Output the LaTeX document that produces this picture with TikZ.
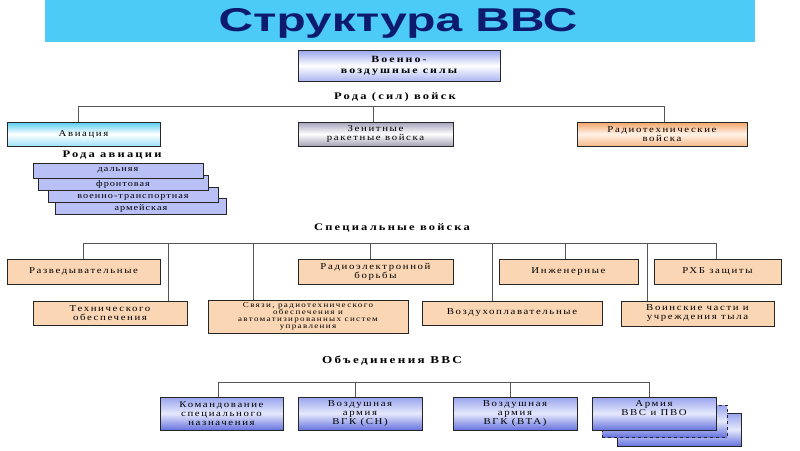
\documentclass[tikz,border=0pt]{standalone}
\usepackage{fontspec}
\usetikzlibrary{shadows}
\setmainfont{Liberation Serif}
\newfontfamily\boxfont[FakeStretch=1.2,LetterSpace=18]{Liberation Serif}
\newfontfamily\stackfont[FakeStretch=1.2,LetterSpace=12]{Liberation Serif}
\newfontfamily\lblfont[FakeStretch=1.25,LetterSpace=22]{Liberation Serif}
\newfontfamily\titlefont[FakeStretch=1.45]{Liberation Sans}
\definecolor{titlebar}{HTML}{4DCBF7}
\definecolor{titletext}{HTML}{0D1B6E}
\definecolor{peach}{HTML}{FAD6B4}
\definecolor{peri}{HTML}{B8C0F6}
\definecolor{linec}{HTML}{555555}
\definecolor{cyanT}{HTML}{55CDF5}
\definecolor{cyanB}{HTML}{9EE2F8}
\definecolor{grayT}{HTML}{A3A1BA}
\definecolor{grayB}{HTML}{A4A2B6}
\definecolor{orT}{HTML}{F5A468}
\definecolor{orM}{HTML}{FFF3E8}
\definecolor{orB}{HTML}{F6B98A}
\definecolor{blT}{HTML}{98A4EE}
\definecolor{blM}{HTML}{E6E9FC}
\definecolor{blB}{HTML}{6673DE}
\begin{document}
\begin{tikzpicture}[x=1pt,y=-1pt,
  plain/.style={draw=black!85, line width=0.7pt, inner sep=1pt, align=center,
    font=\boxfont\fontsize{9}{9}\selectfont},
  box/.style={plain,
    drop shadow={shadow xshift=0.8pt, shadow yshift=-0.8pt, fill=black!55, opacity=1}},
  pbox/.style={box, fill=peach},
  sbox/.style={box, fill=peri, font=\stackfont\fontsize{8.5}{9}\selectfont},
  bbox/.style={box, top color=blT, bottom color=blB, middle color=blM},
  lbl/.style={font=\lblfont\bfseries\fontsize{10}{11}\selectfont, inner sep=0pt},
  conn/.style={draw=linec, line width=0.8pt}]
\useasboundingbox (0,0) rectangle (800,450);
\fill[white] (0,0) rectangle (800,450);
% title
\fill[titlebar] (45,0) rectangle (755,42);
\node[font=\titlefont\bfseries\fontsize{33}{34}\selectfont, text=titletext, inner sep=0pt] (title) at (398,23) {Структура ВВС};
% top box
\node[box, font=\lblfont\bfseries\fontsize{9.5}{11}\selectfont, minimum width=202pt, minimum height=31pt,
  top color=blT, bottom color=blT!80, middle color=white] (vvs) at (399,65.5) {Военно-\\воздушные силы};
\node[lbl] (rodlbl) at (395,97) {Рода (сил) войск};
% row 1
\node[box, minimum width=153pt, minimum height=24pt, top color=cyanT, bottom color=cyanB, middle color=white] (av) at (83.5,134) {Авиация};
\node[box, minimum width=155pt, minimum height=24pt, top color=grayT, bottom color=grayB, middle color=white] (zen) at (375.5,134) {Зенитные\\ракетные войска};
\node[box, minimum width=170pt, minimum height=24pt, top color=orT, bottom color=orB, middle color=orM] (rt) at (662,134) {Радиотехнические\\войска};
\coordinate (b1a) at (78,106);
\coordinate (b1b) at (373,106);
\coordinate (b1c) at (664,106);
\draw[conn] (b1a) -- (b1c);
\draw[conn] (b1a) -- (b1a |- av.north);
\draw[conn] (b1b) -- (b1b |- zen.north);
\draw[conn] (b1c) -- (b1c |- rt.north);
% aviation kinds
\node[lbl] (avlbl) at (112,155) {Рода авиации};
\node[sbox, minimum width=171pt, minimum height=16pt] (s4) at (141,206.5) {\raisebox{-2pt}[\height][\depth]{армейская}};
\node[sbox, minimum width=170pt, minimum height=15pt] (s3) at (133,194.5) {\raisebox{-2.5pt}[\height][\depth]{военно-транспортная}};
\node[sbox, minimum width=170pt, minimum height=15pt] (s2) at (123,182.5) {\raisebox{-2pt}[\height][\depth]{фронтовая}};
\node[sbox, minimum width=170pt, minimum height=15pt] (s1) at (118,170.5) {дальняя};
% special troops
\node[lbl] (splbl) at (392,228) {Специальные войска};
\node[pbox, minimum width=153pt, minimum height=25pt] (razv) at (83.5,271.5) {Разведывательные};
\node[pbox, minimum width=155pt, minimum height=25pt] (reb) at (375.5,271.5) {Радиоэлектронной\\борьбы};
\node[pbox, minimum width=139pt, minimum height=25pt] (ing) at (568.5,271.5) {Инженерные};
\node[pbox, minimum width=127pt, minimum height=25pt] (rxb) at (717.5,271.5) {РХБ защиты};
\node[pbox, minimum width=154pt, minimum height=24pt] (tech) at (110,313) {Технического\\обеспечения};
\node[pbox, minimum width=200pt, minimum height=33pt, font=\boxfont\fontsize{7.5}{7}\selectfont] (svyaz) at (308,316.5) {Связи, радиотехнического\\обеспечения и\\автоматизированных систем\\управления};
\node[pbox, minimum width=180pt, minimum height=24pt] (vozd) at (512,313) {Воздухоплавательные};
\node[pbox, minimum width=153pt, minimum height=25pt] (voin) at (697.5,313.5) {Воинские части и\\учреждения тыла};
\coordinate (b2a) at (83,243);
\coordinate (b2b) at (168,243);
\coordinate (b2c) at (253,243);
\coordinate (b2d) at (370,243);
\coordinate (b2e) at (492,243);
\coordinate (b2f) at (565,243);
\coordinate (b2g) at (647,243);
\coordinate (b2h) at (716,243);
\draw[conn] (b2a) -- (b2h);
\draw[conn] (b2a) -- (b2a |- razv.north);
\draw[conn] (b2b) -- (b2b |- tech.north);
\draw[conn] (b2c) -- (b2c |- svyaz.north);
\draw[conn] (b2d) -- (b2d |- reb.north);
\draw[conn] (b2e) -- (b2e |- vozd.north);
\draw[conn] (b2f) -- (b2f |- ing.north);
\draw[conn] (b2g) -- (b2g |- voin.north);
\draw[conn] (b2h) -- (b2h |- rxb.north);
% unions
\node[lbl, font=\lblfont\bfseries\fontsize{10.5}{11}\selectfont] (oblbl) at (392,361) {Объединения ВВС};
\node[bbox, minimum width=124pt, minimum height=33pt] (back2) at (679,429.5) {};
\node[plain, dashed, top color=blT, bottom color=blB, middle color=blM, minimum width=125pt, minimum height=32pt] (back1) at (664.5,421) {};
\node[bbox, minimum width=123pt, minimum height=33pt] (kom) at (221.5,413.5) {Командование\\специального\\назначения};
\node[bbox, minimum width=124pt, minimum height=33pt] (vasn) at (360,413.5) {Воздушная\\армия\\ВГК (СН)};
\node[bbox, minimum width=124pt, minimum height=33pt] (vavta) at (515,413.5) {Воздушная\\армия\\ВГК (ВТА)};
\node[bbox, minimum width=124pt, minimum height=33pt] (arm) at (654,413.5) {Армия\\ВВС и ПВО\\[1pt]};
\coordinate (b3a) at (218,382);
\coordinate (b3b) at (355,382);
\coordinate (b3c) at (510,382);
\coordinate (b3d) at (649,382);
\draw[conn] (b3a) -- (b3d);
\draw[conn] (b3a) -- (b3a |- kom.north);
\draw[conn] (b3b) -- (b3b |- vasn.north);
\draw[conn] (b3c) -- (b3c |- vavta.north);
\draw[conn] (b3d) -- (b3d |- arm.north);
\end{tikzpicture}
\end{document}
